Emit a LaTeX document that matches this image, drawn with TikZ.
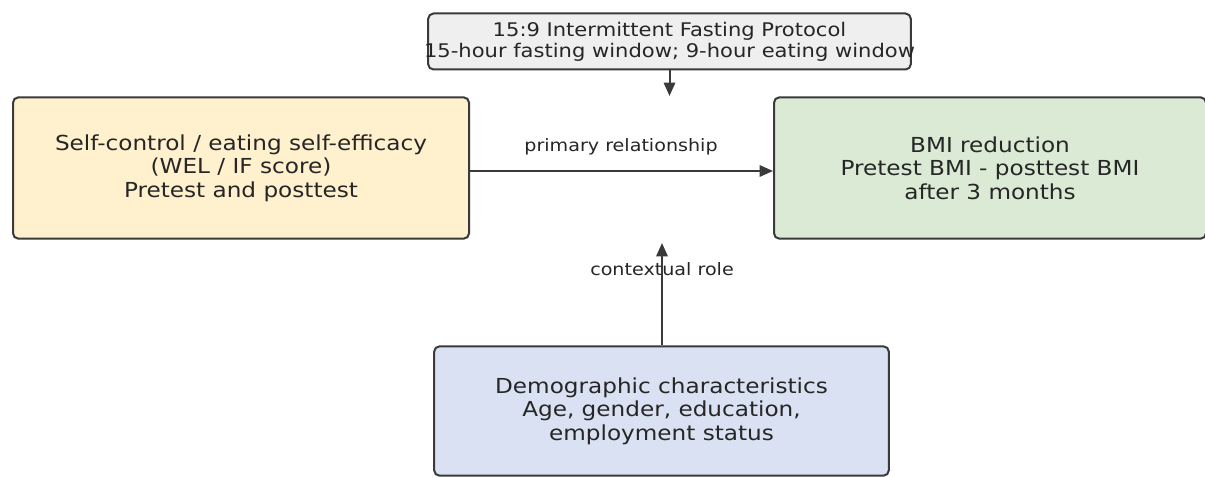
\documentclass[tikz,border=0pt]{standalone}
\usepackage{fontspec}
\setmainfont{DejaVu Sans}[FakeStretch=1.12]
\usetikzlibrary{arrows.meta}
\definecolor{boxline}{HTML}{3A3A3A}
\definecolor{protofill}{HTML}{EFEFEF}
\definecolor{selffill}{HTML}{FFF1CE}
\definecolor{bmifill}{HTML}{DAEAD4}
\definecolor{demofill}{HTML}{D9E1F2}
\definecolor{txt}{HTML}{262626}
\begin{document}
\begin{tikzpicture}[x=0.75pt,y=-0.75pt,
    box/.style={draw=boxline,line width=1.5pt,rounded corners=4pt,align=center,
      text=txt,font=\fontsize{15.5}{17.6}\selectfont,inner sep=0pt},
    link/.style={draw=boxline,line width=1.5pt,-{Triangle[length=10pt,width=8.5pt]}},
    lbl/.style={text=txt,font=\fontsize{12.8}{15}\selectfont}]
    % Khung hình
    \clip (0,0) rectangle (1205,477);
    \fill[white] (0,0) rectangle (1205,477);

    % Các hộp
    \node[box,fill=protofill,minimum width=362pt,minimum height=42pt,
      font=\fontsize{14.1}{15.8}\selectfont] (protocol) at (669.5,41.5)
      {\makebox[0pt]{15:9 Intermittent Fasting Protocol}\\
       \makebox[0pt]{15-hour fasting window; 9-hour eating window}};
    \node[box,fill=selffill,minimum width=342pt,minimum height=106pt] (selfctrl) at (241,168)
      {Self-control / eating self-efficacy\\(WEL / IF score)\\Pretest and posttest};
    \node[box,fill=bmifill,minimum width=324pt,minimum height=106pt] (bmi) at (990,168)
      {BMI reduction\\Pretest BMI - posttest BMI\\after 3 months};
    \node[box,fill=demofill,minimum width=341pt,minimum height=97pt] (demo) at (661.5,411)
      {Demographic characteristics\\Age, gender, education,\\employment status};

    % Nhãn
    \node[lbl] (primlbl) at (621,147) {primary relationship};
    \node[lbl] (ctxlbl) at (662,269) {contextual role};

    % Mũi tên
    \coordinate (protoend) at (protocol.south |- 0,96);
    \coordinate (ctxend) at (662,243);
    \draw[link] (protocol.south) -- (protoend);
    \draw[link] ([yshift=-2.25pt]selfctrl.east) -- ([yshift=-2.25pt]bmi.west);
    \draw[link] (demo.north -| ctxend) -- (ctxend);
\end{tikzpicture}
\end{document}
